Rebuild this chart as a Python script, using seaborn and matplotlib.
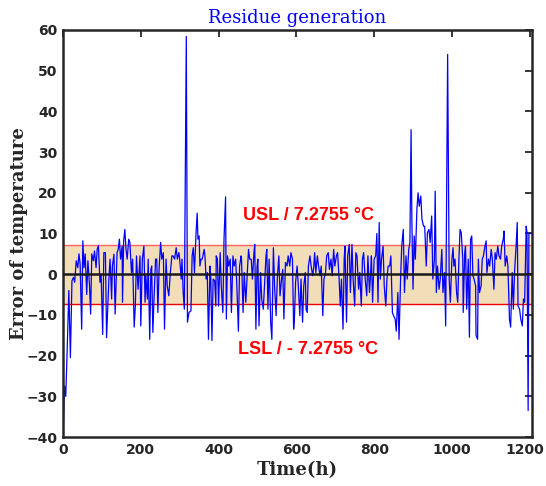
import matplotlib
matplotlib.use("Agg")
import matplotlib.pyplot as plt
import matplotlib.transforms as mtransforms
import seaborn as sns
import pandas as pd

# ---- data ----
time_h = [0, 4, 7, 10, 15, 19, 23, 27, 30, 34, 38, 41, 44, 48, 51, 54, 57, 61, 64, 68,
          71, 74, 78, 81, 85, 88, 91, 95, 98, 102, 105, 109, 112, 118, 121, 125, 127, 131, 134, 139,
          142, 145, 148, 152, 153, 156, 159, 162, 165, 169, 172, 176, 179, 183, 186, 189, 193, 198, 200, 204,
          208, 211, 213, 217, 219, 223, 226, 228, 231, 234, 238, 241, 244, 247, 251, 254, 258, 261, 265, 268,
          272, 276, 280, 283, 287, 291, 294, 298, 300, 304, 306, 309, 312, 317, 320, 324, 329, 332, 335, 338,
          342, 345, 347, 350, 352, 355, 358, 363, 365, 368, 371, 374, 378, 380, 383, 386, 390, 393, 394, 397,
          400, 404, 407, 411, 414, 418, 420, 423, 426, 430, 433, 437, 440, 444, 447, 451, 454, 458, 459, 463,
          466, 470, 473, 477, 480, 484, 487, 491, 493, 496, 499, 501, 504, 508, 511, 515, 518, 522, 524, 527,
          530, 534, 537, 541, 544, 548, 551, 555, 558, 562, 565, 568, 572, 576, 579, 583, 586, 590, 593, 595,
          598, 602, 605, 609, 612, 616, 619, 623, 625, 628, 631, 635, 638, 642, 645, 647, 650, 654, 657, 661,
          664, 668, 671, 675, 678, 682, 685, 689, 692, 696, 699, 703, 706, 710, 713, 716, 720, 723, 725, 729,
          732, 736, 739, 743, 746, 750, 753, 756, 760, 763, 767, 770, 773, 777, 781, 784, 788, 791, 793, 796,
          800, 804, 807, 810, 813, 816, 819, 823, 826, 830, 833, 836, 840, 843, 847, 850, 854, 857, 861, 864,
          868, 871, 875, 878, 882, 885, 889, 892, 895, 897, 900, 903, 906, 910, 913, 916, 920, 923, 927, 930,
          934, 937, 941, 944, 948, 951, 955, 957, 960, 963, 967, 970, 974, 977, 981, 984, 989, 993, 996, 1000,
          1003, 1005, 1008, 1012, 1015, 1018, 1021, 1024, 1028, 1029, 1033, 1035, 1038, 1042, 1045, 1048, 1051, 1054, 1057, 1061,
          1062, 1066, 1068, 1071, 1075, 1078, 1081, 1085, 1088, 1090, 1094, 1097, 1101, 1104, 1108, 1111, 1114, 1118, 1121, 1125,
          1128, 1132, 1134, 1137, 1141, 1144, 1148, 1151, 1155, 1158, 1161, 1165, 1168, 1170, 1174, 1177, 1181, 1184, 1187, 1191,
          1193, 1196, 1198, 1204]
residue = [-40, -27.5, -30, -21, -4, -20.5, -1.6, -0.8, -2, 3.3, 1.6, 5, 2.5, -13.5, 8.2, 1.6, 5, -5, 3.3, -2.5,
           -9.8, 5, 3.3, 5.7, 1.6, 6.2, 7, -2, 0, -14.8, 5.3, 5.3, -15.6, -1.2, 3.7, -6.1, 2, 4.9, -9.8, 5.3,
           6.1, 8.6, 3.7, 6.9, -6.9, 8.2, 11, 6.1, 3.7, 8.6, 7.8, 0.4, 3.7, -13, -7.8, 4.5, -3.7, 4.5, -12.7, 3.7,
           6.9, -6.9, -0.4, -6.1, 3.7, -16, 1.2, 2, -14.3, -6.1, 3.7, 3.7, -9.4, 1.2, 7.8, 3.7, 5.3, -13.5, 3.7, -2.9,
           -5.3, 0.4, 4.5, 4.5, 3.7, 6.5, 3.7, 5.3, 3.7, -1.2, 3.7, -4.5, -8.6, 58.4, -11.8, -9.4, -9, 4.5, 6.5, 0.4,
           10, 15, 8.6, 9.4, 2, 3.7, 3.7, 6.1, 4.5, -1.2, 0.4, -16, 2, -1.2, -16.3, -1.2, -1.6, -7.8, 4.5, 3.7,
           -7.8, 5.3, -2.9, -9.4, 8.6, 19, -11, 4.5, 2, 3.7, -9.4, 4.5, 2, 3.7, -2.9, -14, 2, 4.5, 3.7, -9.4,
           0.4, -6.9, -1.2, 6.1, 3.7, 3.7, -1.2, 5.3, 7.3, -13.5, 2, 3.7, -12.7, 0.4, -6.1, -8.6, -2.9, 4.5, 6.1, -8.6,
           3.7, -11.8, -16, 6.5, -2.9, -10.2, -1.2, 4.5, -5.3, -1.2, 1.2, -11, 2.9, 2, 4.5, 2, 5.3, 3.7, -13.5, -11,
           -2, 2, -2.9, -10.2, -1.2, -11.8, -2.9, 0.4, -8.6, -9.4, 2, 4.5, 2, -0.4, 2, 5.3, 0.4, 4.5, 2, -0.4,
           2, -10.2, -1.2, 0.4, 4.5, 5.3, 1.2, 3.7, -0.4, 6.1, 2, 4.5, 5.3, -1.2, -7.8, -1.2, -13.5, 3.7, 6.9, -11.8,
           4.5, 7.3, -4.5, 7.3, -1.2, -7.8, 5.3, 4.5, -3.7, 0.4, -7.8, 3.7, 5.3, -1.2, -5.3, 4.5, -4.5, 0.4, 4.5, -6.9,
           3.7, 4.5, 10, -6.9, 12.7, -1.2, 3.7, 6.9, -2.9, -7.8, -1.2, 2, 2, 4.5, -9.4, -10.2, -11, -14, -4.5, -16,
           -1.2, 6.9, 11, -4.5, 4.5, -1.2, 6.1, 7.8, 35.5, 13.5, -3.7, 9.4, 3.7, 16, 20, 16.7, 19.2, 13.5, 11.8, 11.8,
           2, 10.2, 11, 7.8, 14.3, -1.2, 3.7, 20.4, -4.5, 2, -3.7, -1.2, 6.1, -4.5, 0.4, -12.7, 54, -1.2, -6.9, 3.7,
           6.5, 2, 3.7, -4.5, -6.9, 3.7, 11, 10.2, 3.7, -9.4, 5.3, 6.9, -8.6, 3.7, -15.5, 8.6, 9.4, -0.4, -1.2, -2.9,
           -15, -16, 3.7, -4.5, -2.9, 3.7, 4.5, 6.9, 8.2, 0.4, 3.7, 2, 6.1, 3.7, -3.7, 5.3, 3.7, 6.9, 4.5, 3.7,
           6.9, 8.6, 10.6, 2, 4.5, 2, -11, -13, 0.4, -8.6, 0.4, 6.9, 12.7, -7.8, -8.6, -11, -12.7, -6.1, -6.9, 11.8,
           10.2, -33.5, 10, 10]

limit = 7.2755
usl_text = "USL / 7.2755 °C"
lsl_text = "LSL / - 7.2755 °C"
title_text = "Residue generation"
xlabel_text = "Time(h)"
ylabel_text = "Error of temperature"
xticks = [0, 200, 400, 600, 800, 1000, 1200]
yticks = [-40, -30, -20, -10, 0, 10, 20, 30, 40, 50, 60]

df = pd.DataFrame({"Time": time_h, "Residue": residue})

sns.set_theme(style="white")
plt.rcParams["font.family"] = ["DejaVu Sans"]

fig = plt.figure(figsize=(5.46, 4.86), dpi=100)
ax = fig.add_axes([0.1154, 0.1008, 0.8590, 0.8375])

ax.axhspan(-limit, limit, color="#f2ddb9", zorder=0, lw=0)
ax.axhline(limit, color="#ff6060", lw=1.0, zorder=1)
ax.axhline(-limit, color="#ee0000", lw=1.0, zorder=1)

sns.lineplot(data=df, x="Time", y="Residue", color="#0000ff", lw=0.9,
             estimator=None, sort=False, ax=ax, zorder=2)
ax.axhline(0, color="#1a1a1a", lw=1.8, zorder=3)

ax.text(630, 14.5, usl_text, color="#ff0000", fontsize=13, fontweight="bold",
        ha="center", va="center", family=["Liberation Sans", "DejaVu Sans"])
ax.text(630, -18.4, lsl_text, color="#ff0000", fontsize=13, fontweight="bold",
        ha="center", va="center", family=["Liberation Sans", "DejaVu Sans"])

ax.set_xlim(0, 1206)
ax.set_ylim(-40, 60)
ax.set_xticks(xticks)
ax.set_yticks(yticks)
ax.tick_params(direction="in", length=5, width=1.3, top=True, right=True,
               labelsize=10, colors="#262626", pad=4)
for lab in ax.get_xticklabels() + ax.get_yticklabels():
    lab.set_fontweight("bold")
    lab.set_family("DejaVu Sans")
for s in ax.spines.values():
    s.set_color("#262626")
    s.set_linewidth(1.8)
    s.set_visible(True)

ax.set_title(title_text, color="#0000ff", fontsize=13, family="DejaVu Serif", pad=5)
ax.set_xlabel(xlabel_text, fontsize=13, fontweight="bold", family="DejaVu Serif",
              color="#262626", labelpad=3)
ax.set_ylabel(ylabel_text, fontsize=13, fontweight="bold", family="DejaVu Serif",
              color="#262626")
ax.yaxis.set_label_coords(-0.075, 0.5)

# nudge the last x tick label inward so it stays inside the canvas
last = ax.xaxis.get_major_ticks()[-1].label1
last.set_transform(last.get_transform() +
                   mtransforms.ScaledTranslation(-5 / 100, 0, fig.dpi_scale_trans))

fig.savefig("out.png", dpi=100)
